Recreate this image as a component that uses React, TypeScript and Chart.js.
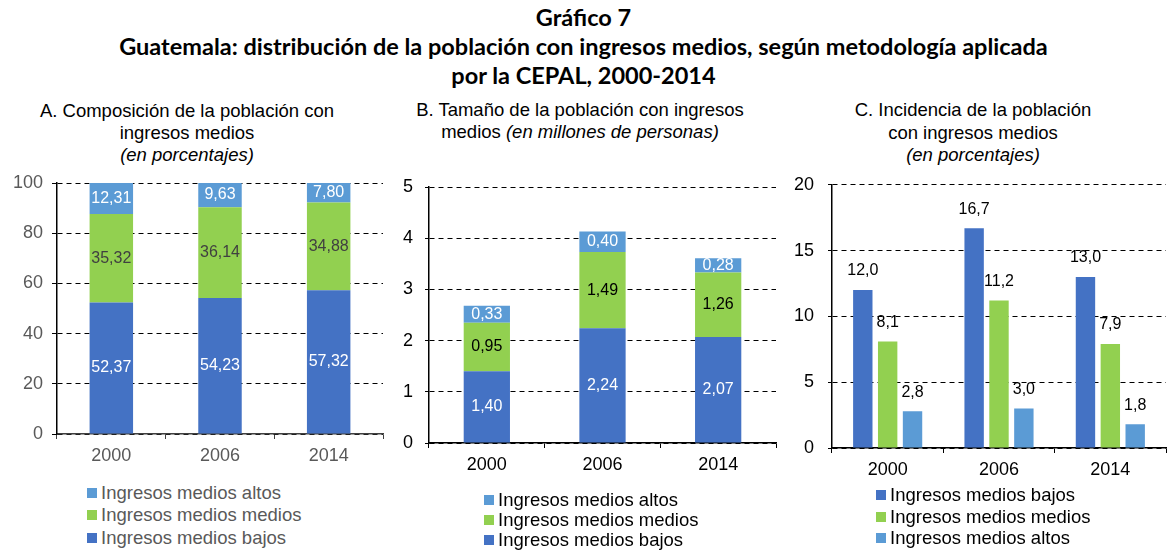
import React, { useEffect, useRef } from 'react';
import { Chart, registerables } from 'chart.js';

Chart.register(...registerables);

// ---------- data ----------
const years = ['2000', '2006', '2014'];
const seriesNames = ['Ingresos medios bajos', 'Ingresos medios medios', 'Ingresos medios altos'];
const seriesColors = ['#4472C4', '#92D050', '#5B9BD5'];

// A. Composición (porcentajes)
const compBajos = [52.37, 54.23, 57.32];
const compMedios = [35.32, 36.14, 34.88];
const compAltos = [12.31, 9.63, 7.8];

// B. Tamaño (millones de personas)
const sizeBajos = [1.4, 2.24, 2.07];
const sizeMedios = [0.95, 1.49, 1.26];
const sizeAltos = [0.33, 0.4, 0.28];

// C. Incidencia (porcentajes)
const incBajos = [12.0, 16.7, 13.0];
const incMedios = [8.1, 11.2, 7.9];
const incAltos = [2.8, 3.0, 1.8];

const FONT = '"Liberation Sans", Arial, sans-serif';

const valueLabels = {
  id: 'valueLabels',
  afterDatasetsDraw(chart: any, _args: any, opts: any) {
    const ctx = chart.ctx;
    ctx.save();
    ctx.font = `16px ${FONT}`;
    ctx.textAlign = 'center';
    ctx.textBaseline = 'middle';
    chart.data.datasets.forEach((ds: any, di: number) => {
      const meta = chart.getDatasetMeta(di);
      meta.data.forEach((el: any, i: number) => {
        const v = ds.data[i] as number;
        const text = v.toFixed(opts.decimals).replace('.', ',');
        ctx.fillStyle = opts.colors[di];
        const y = opts.mode === 'center' ? (el.y + el.base) / 2 : el.y - opts.offset;
        ctx.fillText(text, el.x, y);
      });
    });
    ctx.restore();
  },
};

type PanelOpts = {
  data: number[][];
  stacked: boolean;
  max: number;
  step: number;
  textColor: string;
  axisColor: string;
  yWidth: number;
  xHeight: number;
  pad: { top: number; right: number };
  yPad: number;
  tickLen: number;
  xPad: number;
  catPct: number;
  barPct: number;
  labels: any;
};

function buildConfig(p: PanelOpts): any {
  return {
    type: 'bar',
    data: {
      labels: years,
      datasets: p.data.map((d, i) => ({
        label: seriesNames[i],
        data: d,
        backgroundColor: seriesColors[i],
        borderWidth: 0,
        categoryPercentage: p.catPct,
        barPercentage: p.barPct,
      })),
    },
    options: {
      responsive: false,
      animation: false,
      events: [],
      layout: { padding: { top: p.pad.top, right: p.pad.right, left: 0, bottom: 0 } },
      plugins: {
        legend: { display: false },
        tooltip: { enabled: false },
        title: { display: false },
        valueLabels: p.labels,
      },
      scales: {
        x: {
          stacked: p.stacked,
          offset: true,
          grid: {
            display: true,
            offset: true,
            drawOnChartArea: false,
            drawTicks: true,
            tickLength: 5,
            tickColor: p.axisColor,
            color: p.axisColor,
          },
          border: { display: true, color: p.axisColor, width: 1.5 },
          ticks: { color: p.textColor, font: { family: FONT, size: 18 }, padding: p.xPad },
          afterFit: (s: any) => {
            s.height = p.xHeight;
          },
        },
        y: {
          stacked: p.stacked,
          min: 0,
          max: p.max,
          ticks: { stepSize: p.step, color: p.textColor, font: { family: FONT, size: 18 }, padding: p.yPad },
          grid: {
            color: '#000000',
            lineWidth: 1,
            drawTicks: true,
            tickLength: p.tickLen,
            tickColor: '#000000',
          },
          border: { display: true, color: '#000000', width: 1.5, dash: [5, 4] },
          afterFit: (s: any) => {
            s.width = p.yWidth;
          },
        },
      },
    },
    plugins: [valueLabels],
  };
}

function ChartCanvas(props: { cfg: PanelOpts; left: number; top: number; width: number; height: number }) {
  const ref = useRef<HTMLCanvasElement | null>(null);
  useEffect(() => {
    if (!ref.current) return;
    const chart = new Chart(ref.current, buildConfig(props.cfg));
    return () => chart.destroy();
  }, []);
  return (
    <canvas
      ref={ref}
      width={props.width}
      height={props.height}
      style={{ position: 'absolute', left: props.left, top: props.top, width: props.width, height: props.height }}
    />
  );
}

function Legend(props: { order: number[]; sqX: number; textX: number; rows: number[]; color: string }) {
  return (
    <>
      {props.order.map((si, k) => (
        <React.Fragment key={si}>
          <div
            style={{
              position: 'absolute',
              left: props.sqX,
              top: props.rows[k] - 5,
              width: 10,
              height: 10,
              background: seriesColors[si],
            }}
          />
          <div
            style={{
              position: 'absolute',
              left: props.textX,
              top: props.rows[k] - 11,
              height: 22,
              lineHeight: '22px',
              fontFamily: FONT,
              fontSize: 18.5,
              color: props.color,
              whiteSpace: 'nowrap',
            }}
          >
            {seriesNames[si]}
          </div>
        </React.Fragment>
      ))}
    </>
  );
}

function PanelTitle(props: { cx: number; top: number; lh: number; children: any }) {
  return (
    <div
      style={{
        position: 'absolute',
        left: props.cx - 200,
        top: props.top,
        width: 400,
        textAlign: 'center',
        fontFamily: FONT,
        fontSize: 18.5,
        lineHeight: `${props.lh}px`,
        color: '#000',
      }}
    >
      {props.children}
    </div>
  );
}

export default function App() {
  const cfgA: PanelOpts = {
    data: [compBajos, compMedios, compAltos],
    stacked: true,
    max: 100,
    step: 20,
    textColor: '#595959',
    axisColor: '#404040',
    yWidth: 57,
    xHeight: 46,
    pad: { top: 23, right: 3 },
    yPad: 9,
    tickLen: 5,
    xPad: 6,
    catPct: 1,
    barPct: 0.4,
    labels: { mode: 'center', decimals: 2, colors: ['#ffffff', '#404040', '#ffffff'] },
  };
  const cfgB: PanelOpts = {
    data: [sizeBajos, sizeMedios, sizeAltos],
    stacked: true,
    max: 5,
    step: 1,
    textColor: '#000000',
    axisColor: '#000000',
    yWidth: 39,
    xHeight: 47,
    pad: { top: 27, right: 4 },
    yPad: 12,
    tickLen: 4,
    xPad: 6,
    catPct: 1,
    barPct: 0.4,
    labels: { mode: 'center', decimals: 2, colors: ['#ffffff', '#000000', '#ffffff'] },
  };
  const cfgC: PanelOpts = {
    data: [incBajos, incMedios, incAltos],
    stacked: false,
    max: 20,
    step: 5,
    textColor: '#000000',
    axisColor: '#000000',
    yWidth: 47,
    xHeight: 47,
    pad: { top: 24, right: 1 },
    yPad: 14,
    tickLen: 4,
    xPad: 6,
    catPct: 0.67,
    barPct: 0.78,
    labels: { mode: 'top', offset: 19, decimals: 1, colors: ['#000000', '#000000', '#000000'] },
  };

  return (
    <div
      style={{
        position: 'absolute',
        left: 0,
        top: 0,
        width: 1167,
        height: 551,
        overflow: 'hidden',
        background: '#ffffff',
      }}
    >
      <div
        style={{
          position: 'absolute',
          left: 0,
          top: 3,
          width: 1167,
          textAlign: 'center',
          fontFamily: 'Lato, "Open Sans", sans-serif',
          fontWeight: 700,
          fontSize: 23.5,
          lineHeight: '29px',
          color: '#000',
        }}
      >
        Gráfico 7
        <br />
        Guatemala: distribución de la población con ingresos medios, según metodología aplicada
        <br />
        por la CEPAL, 2000-2014
      </div>

      <PanelTitle cx={187} top={100} lh={22}>
        A. Composición de la población con
        <br />
        ingresos medios
        <br />
        <i>(en porcentajes)</i>
      </PanelTitle>
      <PanelTitle cx={580} top={99} lh={22}>
        B. Tamaño de la población con ingresos
        <br />
        medios <i>(en millones de personas)</i>
      </PanelTitle>
      <PanelTitle cx={973} top={99} lh={22.5}>
        C. Incidencia de la población
        <br />
        con ingresos medios
        <br />
        <i>(en porcentajes)</i>
      </PanelTitle>

      <ChartCanvas cfg={cfgA} left={0} top={160} width={386} height={320} />
      <ChartCanvas cfg={cfgB} left={390} top={160} width={390} height={330} />
      <ChartCanvas cfg={cfgC} left={785} top={160} width={382} height={335} />

      <Legend order={[2, 1, 0]} sqX={87} textX={101} rows={[493, 515, 538]} color="#595959" />
      <Legend order={[2, 1, 0]} sqX={484} textX={498} rows={[500, 520, 540]} color="#000000" />
      <Legend order={[0, 1, 2]} sqX={876} textX={890} rows={[495, 517, 538]} color="#000000" />
    </div>
  );
}
